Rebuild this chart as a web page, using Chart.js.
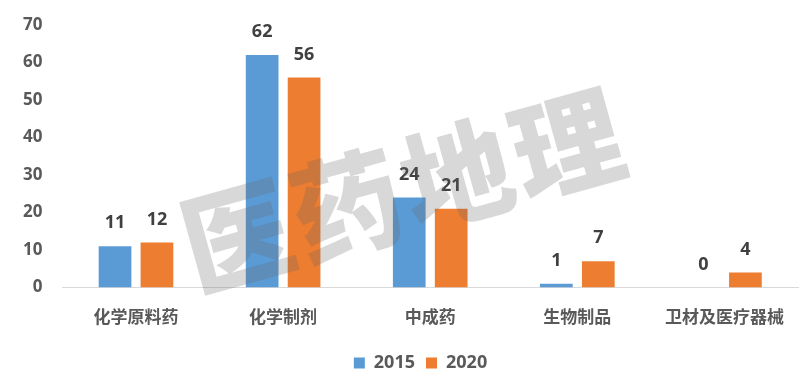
<!DOCTYPE html>
<html><head><meta charset="utf-8">
<script src="https://cdn.jsdelivr.net/npm/chart.js@4/dist/chart.umd.min.js"></script>
<style>html,body{margin:0;padding:0;background:#fff;}#wrap{width:812px;height:379px;}</style>
</head><body><div id="wrap"><canvas id="c" width="812" height="379"></canvas></div>
<script>
const categories = ["化学原料药", "化学制剂", "中成药", "生物制品", "卫材及医疗器械"];
const series2015 = [11, 62, 24, 1, 0];
const series2020 = [12, 56, 21, 7, 4];
const seriesNames = ["2015", "2020"];
const watermarkText = "医药地理";

const FONT = '"Open Sans", "Noto Sans CJK SC", sans-serif';

const labelPlugin = {
  id: 'barLabels',
  afterDatasetsDraw(chart) {
    const ctx = chart.ctx;
    ctx.save();
    ctx.font = 'bold 18px ' + FONT;
    ctx.fillStyle = '#404040';
    ctx.textAlign = 'center';
    ctx.textBaseline = 'bottom';
    chart.data.datasets.forEach((ds, i) => {
      chart.getDatasetMeta(i).data.forEach((bar, j) => {
        ctx.fillText(String(ds.data[j]), bar.x, bar.y - 14);
      });
    });
    ctx.restore();
  }
};

const legendShift = {
  id: 'legendShift',
  afterLayout(chart) {
    const lg = chart.legend;
    if (!lg) return;
    lg.left += 16; lg.right += 16;
    lg.top += 3; lg.bottom += 3;
  }
};

const watermarkPlugin = {
  id: 'watermark',
  afterDraw(chart) {
    const ctx = chart.ctx;
    ctx.save();
    ctx.translate(402, 190);
    ctx.rotate(-15.5 * Math.PI / 180);
    ctx.font = '900 110px "Noto Sans CJK SC", sans-serif';
    ctx.fillStyle = 'rgba(100,100,100,0.25)';
    ctx.textAlign = 'center';
    ctx.textBaseline = 'middle';
    const chars = Array.from(watermarkText);
    const step = 114;
    chars.forEach((ch, i) => {
      ctx.fillText(ch, (i - (chars.length - 1) / 2) * step, 0);
    });
    ctx.restore();
  }
};

new Chart(document.getElementById('c'), {
  type: 'bar',
  data: {
    labels: categories,
    datasets: [
      { label: seriesNames[0], data: series2015, backgroundColor: '#5B9BD5' },
      { label: seriesNames[1], data: series2020, backgroundColor: '#ED7D31' }
    ]
  },
  options: {
    responsive: false,
    animation: false,
    layout: { padding: { left: 11, right: 14, top: 25, bottom: 0 } },
    datasets: { bar: { categoryPercentage: 0.57, barPercentage: 0.78 } },
    scales: {
      x: {
        grid: { display: false },
        border: { display: true, color: '#d9d9d9', width: 1 },
        ticks: { color: '#595959', font: { family: FONT, size: 17, weight: 'bold' }, padding: 12 }
      },
      y: {
        min: 0, max: 70,
        grid: { display: false },
        border: { display: false },
        ticks: { stepSize: 10, color: '#595959', font: { family: FONT, size: 17, weight: 'bold' }, padding: 12 }
      }
    },
    plugins: {
      legend: {
        position: 'bottom',
        labels: { boxWidth: 11, boxHeight: 11, color: '#595959', font: { family: FONT, size: 18, weight: 'bold' }, padding: 11 }
      },
      tooltip: { enabled: false }
    }
  },
  plugins: [labelPlugin, legendShift, watermarkPlugin]
});
</script></body></html>
